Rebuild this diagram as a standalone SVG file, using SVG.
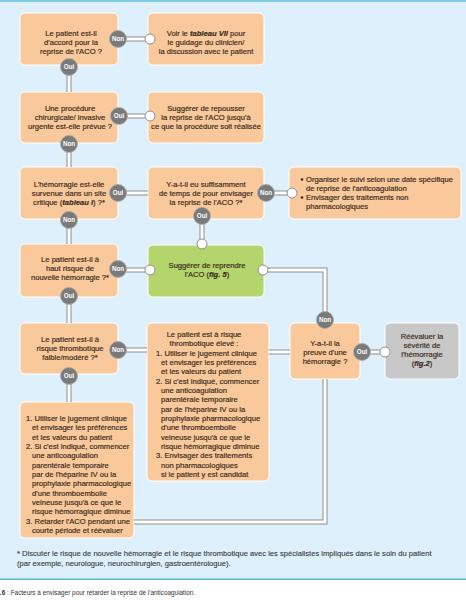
<svg xmlns="http://www.w3.org/2000/svg" width="466" height="600" viewBox="0 0 466 600">
<style>
.bg{fill:#ddf0fb}
.box{fill:#f9c99b;stroke:#fff;stroke-width:1}
.green{fill:#b4d46c;stroke:#fff;stroke-width:1}
.grey{fill:#c8c8c8;stroke:#fff;stroke-width:1}
.t{font-family:"Liberation Sans",Arial,sans-serif;font-size:7.6px;fill:#3a2a1c;stroke:#3a2a1c;stroke-width:0.18}
.c{text-anchor:middle}
.bi{font-weight:bold;font-style:italic}
.po{stroke:#8e8e8e;stroke-width:5;fill:none}
.pi{stroke:#fff;stroke-width:3;fill:none}
.end{fill:#fff;stroke:#8e8e8e;stroke-width:1}
.bd circle{fill:#7a7a7a;stroke:#a8a8a8;stroke-width:0.8}
.bd text{font-family:"Liberation Sans",Arial,sans-serif;font-size:6.3px;font-weight:bold;fill:#fff;text-anchor:middle}
.fn{font-family:"Liberation Sans",Arial,sans-serif;font-size:7.6px;fill:#3a3a3a;stroke:#3a3a3a;stroke-width:0.12}
.cap{font-family:"Liberation Sans",Arial,sans-serif;font-size:6.4px;fill:#333}
</style>
<defs>
<path id="p1" d="M126,39H145"/>
<path id="p2" d="M69,75V92"/>
<path id="p3" d="M127,116H145"/>
<path id="p4" d="M69,152V167"/>
<path id="p5" d="M126,193H148"/>
<path id="p6" d="M69,228V244"/>
<path id="p7" d="M274,193H287"/>
<path id="p8" d="M202,224V239"/>
<path id="p9" d="M126,270H145"/>
<path id="p10" d="M69,304V323"/>
<path id="p11" d="M268,270H325V312"/>
<path id="p12" d="M370,352H380"/>
<path id="p13" d="M126,350H147"/>
<path id="p14" d="M269,352H290"/>
<path id="p15" d="M69,384V402"/>
<path id="p16" d="M325,379V522H134"/>
</defs>
<rect class="bg" x="0" y="0" width="466" height="579"/>
<rect x="0" y="0" width="466" height="2" fill="#80cde3"/>
<rect x="0" y="578.5" width="466" height="1.5" fill="#5ab7cc"/>
<rect x="0" y="580" width="466" height="20" fill="#fff"/>

<g id="n1"><rect class="box" x="20" y="13" width="98" height="52" rx="5"/>
<text class="t c" x="71" y="36">Le patient est-il</text>
<text class="t c" x="71" y="45">d'accord pour la</text>
<text class="t c" x="71" y="54">reprise de l'ACO ?</text></g>

<g id="n2"><rect class="box" x="148" y="13" width="116" height="52" rx="5"/>
<text class="t c" x="206" y="36">Voir le <tspan class="bi">tableau VII</tspan> pour</text>
<text class="t c" x="206" y="45">le guidage du clinicien/</text>
<text class="t c" x="206" y="54">la discussion avec le patient</text></g>

<g id="n3"><rect class="box" x="20" y="92" width="98" height="51" rx="5"/>
<text class="t c" x="70" y="111">Une procédure</text>
<text class="t c" x="70" y="120">chirurgicale/ invasive</text>
<text class="t c" x="70" y="129">urgente est-elle prévue ?</text></g>

<g id="n4"><rect class="box" x="148" y="92" width="116" height="51" rx="5"/>
<text class="t c" x="206" y="111">Suggérer de repousser</text>
<text class="t c" x="206" y="120">la reprise de l'ACO jusqu'à</text>
<text class="t c" x="206" y="129">ce que la procédure soit réalisée</text></g>

<g id="n5"><rect class="box" x="20" y="167" width="98" height="52" rx="5"/>
<text class="t c" x="69" y="187">L'hémorragie est-elle</text>
<text class="t c" x="69" y="196">survenue dans un site</text>
<text class="t c" x="69" y="205">critique (<tspan class="bi">tableau I</tspan>) ?*</text></g>

<g id="n6"><rect class="box" x="148" y="167" width="116" height="52" rx="5"/>
<text class="t c" x="206" y="187">Y-a-t-il eu suffisamment</text>
<text class="t c" x="206" y="196">de temps de pour envisager</text>
<text class="t c" x="206" y="205">la reprise de l'ACO ?*</text></g>

<g id="n7"><rect class="box" x="289" y="167" width="172" height="52" rx="5"/>
<circle cx="302" cy="179.5" r="1.3" fill="#3a2a1c"/>
<text class="t" x="306" y="182">Organiser le suivi selon une date spécifique</text>
<text class="t" x="306" y="191">de reprise de l'anticoagulation</text>
<circle cx="302" cy="197.5" r="1.3" fill="#3a2a1c"/>
<text class="t" x="306" y="200">Envisager des traitements non</text>
<text class="t" x="306" y="209">pharmacologiques</text></g>

<g id="n8"><rect class="green" x="148" y="245" width="116" height="52" rx="5"/>
<text class="t c" x="207" y="268">Suggérer de reprendre</text>
<text class="t c" x="207" y="277">l'ACO (<tspan class="bi">fig. 5</tspan>)</text></g>

<g id="n9"><rect class="box" x="20" y="244" width="98" height="53" rx="5"/>
<text class="t c" x="70" y="262">Le patient est-il à</text>
<text class="t c" x="70" y="271">haut risque de</text>
<text class="t c" x="70" y="280">nouvelle hémorragie ?*</text></g>

<g id="n10"><rect class="box" x="290" y="323" width="70" height="56" rx="5"/>
<text class="t c" x="325" y="346">Y-a-t-il la</text>
<text class="t c" x="325" y="355">preuve d'une</text>
<text class="t c" x="325" y="364">hémorragie ?</text></g>

<g id="n11"><rect class="grey" x="385" y="323" width="74" height="56" rx="5"/>
<text class="t c" x="422" y="339">Réévaluer la</text>
<text class="t c" x="422" y="348">sévérité de</text>
<text class="t c" x="422" y="357">l'hémorragie</text>
<text class="t c" x="422" y="366">(<tspan class="bi">fig.2</tspan>)</text></g>

<g id="n12"><rect class="box" x="20" y="323" width="98" height="51" rx="5"/>
<text class="t c" x="70" y="342">Le patient est-il à</text>
<text class="t c" x="70" y="351">risque thrombotique</text>
<text class="t c" x="70" y="360">faible/modéré ?*</text></g>

<g id="n13"><rect class="box" x="147" y="323" width="122" height="158" rx="5"/>
<text class="t c" x="204" y="337">Le patient est à risque</text>
<text class="t c" x="204" y="346.3">thrombotique élevé :</text>
<text class="t" x="156" y="355.7">1. Utiliser le jugement clinique</text>
<text class="t" x="161" y="365">et envisager les préférences</text>
<text class="t" x="161" y="374.3">et les valeurs du patient</text>
<text class="t" x="156" y="383.7">2. Si c'est indiqué, commencer</text>
<text class="t" x="161" y="393">une anticoagulation</text>
<text class="t" x="161" y="402.3">parentérale temporaire</text>
<text class="t" x="161" y="411.6">par de l'héparine IV ou la</text>
<text class="t" x="161" y="421">prophylaxie pharmacologique</text>
<text class="t" x="161" y="430.3">d'une thromboembolie</text>
<text class="t" x="161" y="439.6">veineuse jusqu'à ce que le</text>
<text class="t" x="161" y="449">risque hémorragique diminue</text>
<text class="t" x="156" y="458.3">3. Envisager des traitements</text>
<text class="t" x="161" y="467.6">non pharmacologiques</text>
<text class="t" x="161" y="477">si le patient y est candidat</text></g>

<g id="n14"><rect class="box" x="20" y="402" width="114" height="136" rx="5"/>
<text class="t" x="26" y="421">1. Utiliser le jugement clinique</text>
<text class="t" x="32" y="430.3">et envisager les préférences</text>
<text class="t" x="32" y="439.6">et les valeurs du patient</text>
<text class="t" x="26" y="449">2. Si c'est indiqué, commencer</text>
<text class="t" x="32" y="458.3">une anticoagulation</text>
<text class="t" x="32" y="467.6">parentérale temporaire</text>
<text class="t" x="32" y="477">par de l'héparine IV ou la</text>
<text class="t" x="32" y="486.3">prophylaxie pharmacologique</text>
<text class="t" x="32" y="495.6">d'une thromboembolie</text>
<text class="t" x="32" y="505">veineuse jusqu'à ce que le</text>
<text class="t" x="32" y="514.3">risque hémorragique diminue</text>
<text class="t" x="26" y="523.6">3. Retarder l'ACO pendant une</text>
<text class="t" x="32" y="533">courte période et réévaluer</text></g>

<g id="connectors">
<use href="#p1" class="po"/><use href="#p1" class="pi"/>
<use href="#p2" class="po"/><use href="#p2" class="pi"/>
<use href="#p3" class="po"/><use href="#p3" class="pi"/>
<use href="#p4" class="po"/><use href="#p4" class="pi"/>
<use href="#p5" class="po"/><use href="#p5" class="pi"/>
<use href="#p6" class="po"/><use href="#p6" class="pi"/>
<use href="#p7" class="po"/><use href="#p7" class="pi"/>
<use href="#p8" class="po"/><use href="#p8" class="pi"/>
<use href="#p9" class="po"/><use href="#p9" class="pi"/>
<use href="#p10" class="po"/><use href="#p10" class="pi"/>
<use href="#p11" class="po"/><use href="#p11" class="pi"/>
<use href="#p12" class="po"/><use href="#p12" class="pi"/>
<use href="#p13" class="po"/><use href="#p13" class="pi"/>
<use href="#p14" class="po"/><use href="#p14" class="pi"/>
<use href="#p15" class="po"/><use href="#p15" class="pi"/>
<use href="#p16" class="po"/><use href="#p16" class="pi"/>
<circle class="end" cx="150" cy="39" r="5"/>
<circle class="end" cx="150" cy="116" r="5"/>
<circle class="end" cx="292" cy="193" r="5"/>
<circle class="end" cx="202" cy="244" r="5"/>
<circle class="end" cx="150" cy="270" r="5"/>
<circle class="end" cx="263" cy="270" r="5"/>
<circle class="end" cx="385" cy="352" r="5"/>
<g class="bd"><circle cx="118" cy="39" r="8.5"/><text x="118" y="41.3">Non</text></g>
<g class="bd"><circle cx="69" cy="67" r="8.5"/><text x="69" y="69.3">Oui</text></g>
<g class="bd"><circle cx="119" cy="116" r="8.5"/><text x="119" y="118.3">Oui</text></g>
<g class="bd"><circle cx="69" cy="144" r="8.5"/><text x="69" y="146.3">Non</text></g>
<g class="bd"><circle cx="118" cy="193" r="8.5"/><text x="118" y="195.3">Oui</text></g>
<g class="bd"><circle cx="69" cy="220" r="8.5"/><text x="69" y="222.3">Non</text></g>
<g class="bd"><circle cx="266" cy="193" r="8.5"/><text x="266" y="195.3">Non</text></g>
<g class="bd"><circle cx="202" cy="216" r="8.5"/><text x="202" y="218.3">Oui</text></g>
<g class="bd"><circle cx="118" cy="269" r="8.5"/><text x="118" y="271.3">Non</text></g>
<g class="bd"><circle cx="69" cy="296" r="8.5"/><text x="69" y="298.3">Oui</text></g>
<g class="bd"><circle cx="325" cy="320" r="8.5"/><text x="325" y="322.3">Non</text></g>
<g class="bd"><circle cx="362" cy="352" r="8.5"/><text x="362" y="354.3">Oui</text></g>
<g class="bd"><circle cx="118" cy="350" r="8.5"/><text x="118" y="352.3">Non</text></g>
<g class="bd"><circle cx="69" cy="376" r="8.5"/><text x="69" y="378.3">Oui</text></g>
</g>

<text class="fn" x="17" y="556">* Discuter le risque de nouvelle hémorragie et le risque thrombotique avec les spécialistes impliqués dans le soin du patient</text>
<text class="fn" x="17" y="566">(par exemple, neurologue, neurochirurgien, gastroentérologue).</text>
<text class="cap" x="0" y="595"><tspan font-weight="bold">.6</tspan> : Facteurs à envisager pour retarder la reprise de l'anticoagulation.</text>
</svg>
